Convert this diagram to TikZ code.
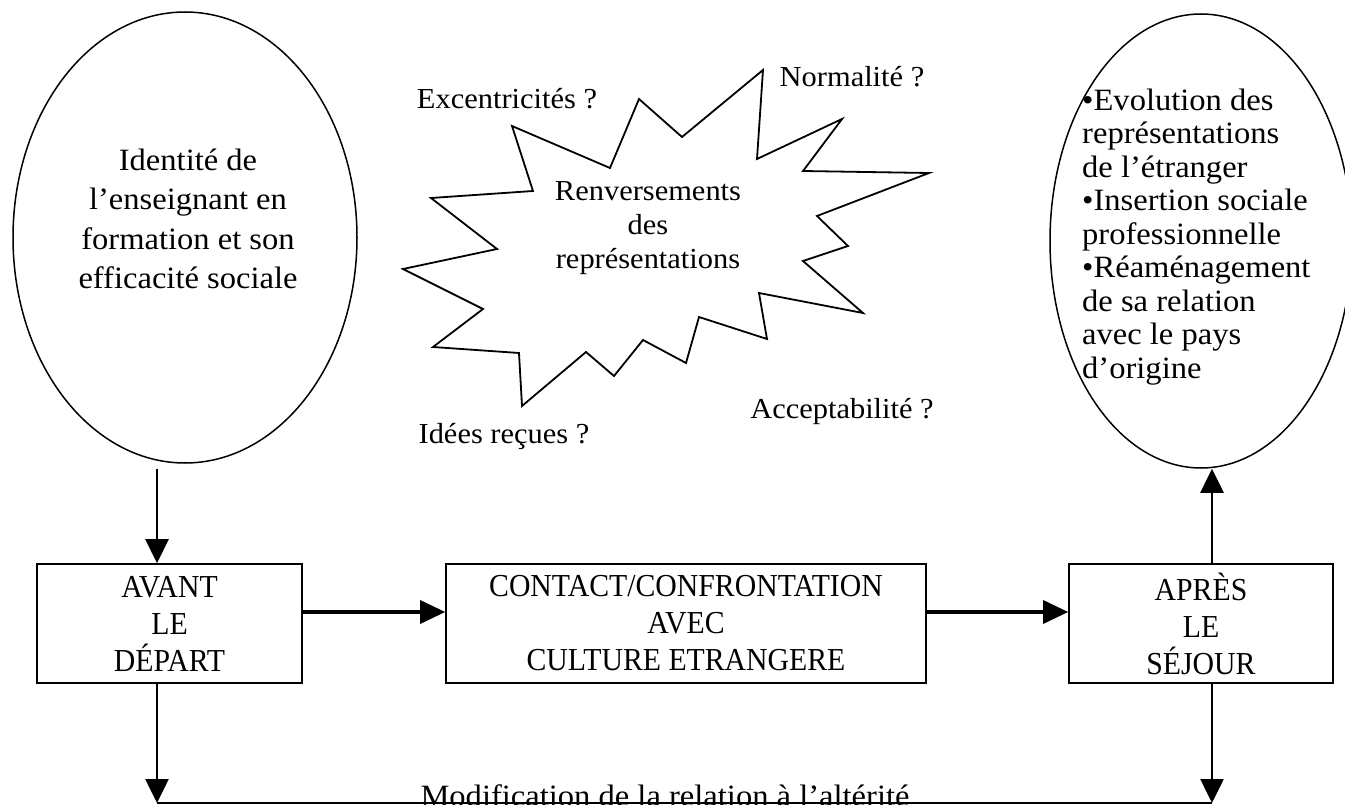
\documentclass[tikz,border=0pt]{standalone}
\usepackage{fontspec}
\setmainfont[FakeStretch=1.05]{Liberation Serif}
\newfontfamily\boxfont[FakeStretch=0.93]{Liberation Serif}
\usetikzlibrary{shapes.geometric,arrows.meta}
\begin{document}
\begin{tikzpicture}[x=1pt,y=-1pt,
  box/.style={draw,line width=1.6pt,inner sep=0pt,align=center,font=\boxfont\fontsize{32}{37}\selectfont},
  oval/.style={draw,ellipse,line width=1.5pt,inner sep=0pt},
  lbl/.style={inner sep=0pt,font=\fontsize{29}{34}\selectfont},
  varr/.style={line width=2.6pt,-{Triangle[length=24pt,width=23pt]}},
  harr/.style={line width=3.4pt,-{Triangle[length=25pt,width=23pt]}}]
\path[use as bounding box] (0,0) rectangle (1345,805);
\clip (0,0) rectangle (1345,805);
% ellipses
\node[oval,minimum width=344pt,minimum height=451pt] (le) at (185,237.5) {};
\node[align=center,inner sep=0pt,font=\fontsize{31}{39.5}\selectfont] (letxt) at (188,219)
  {Identité de\\l’enseignant en\\formation et son\\efficacité sociale};
\node[oval,minimum width=302pt,minimum height=454pt] (re) at (1201,241) {};
\node[align=left,anchor=west,inner sep=0pt,font=\fontsize{31}{33.5}\selectfont] (retxt) at (1082,237)
  {•Evolution des\\représentations\\de l’étranger\\•Insertion sociale\\professionnelle\\•Réaménagement\\de sa relation\\avec le pays\\d’origine};
% starburst
\draw[line width=1.8pt,line join=miter] (512,126) -- (610,168) -- (639,99) -- (682,137) -- (763,70)
  -- (757,159) -- (842,119) -- (803,171) -- (929,173) -- (817,216) -- (848,246) -- (803,261)
  -- (863,313) -- (759,293) -- (767,339) -- (699,317) -- (686,363) -- (643,340) -- (614,376)
  -- (586,352) -- (522,406) -- (519,353) -- (433,347) -- (483,309) -- (403,269) -- (497,249)
  -- (431,198) -- (533,191) -- cycle;
\node[lbl,align=center] (rep) at (648,228) {Renversements\\des\\représentations};
\node[lbl] (exc) at (507,99) {Excentricités ?};
\node[lbl] (norm) at (852,77) {Normalité ?};
\node[lbl] (acc) at (842,412) {Acceptabilité ?};
\node[lbl] (idr) at (504,437) {Idées reçues ?};
% boxes
\node[box,minimum width=265pt,minimum height=119pt] (b1) at (169.5,623.5) {AVANT\\LE\\DÉPART};
\node[box,minimum width=480pt,minimum height=119pt] (b2) at (686,623.5) {CONTACT/CONFRONTATION\\AVEC\\CULTURE ETRANGERE};
\node[box,minimum width=264pt,minimum height=119pt] (b3) at (1201,623.5) {APRÈS\\LE\\SÉJOUR};
% connectors
\coordinate (hy) at (0,612);
\coordinate (bl) at (157,803);
\coordinate (br) at (1212,803);
\draw[varr,shorten <=5pt] (le.south -| bl) -- (b1.north -| bl);
\draw[harr] (b1.east |- hy) -- (b2.west |- hy);
\draw[harr] (b2.east |- hy) -- (b3.west |- hy);
\draw[varr] (b3.north -| br) -- (re.south -| br);
\draw[varr] (b1.south -| bl) -- (bl);
\draw[varr] (b3.south -| br) -- (br);
\draw[line width=2.6pt] (bl) -- (br);
\node[anchor=base,inner sep=0pt,font=\fontsize{31}{34}\selectfont] (mod) at (665,806) {Modification de la relation à l’altérité};
\end{tikzpicture}
\end{document}
